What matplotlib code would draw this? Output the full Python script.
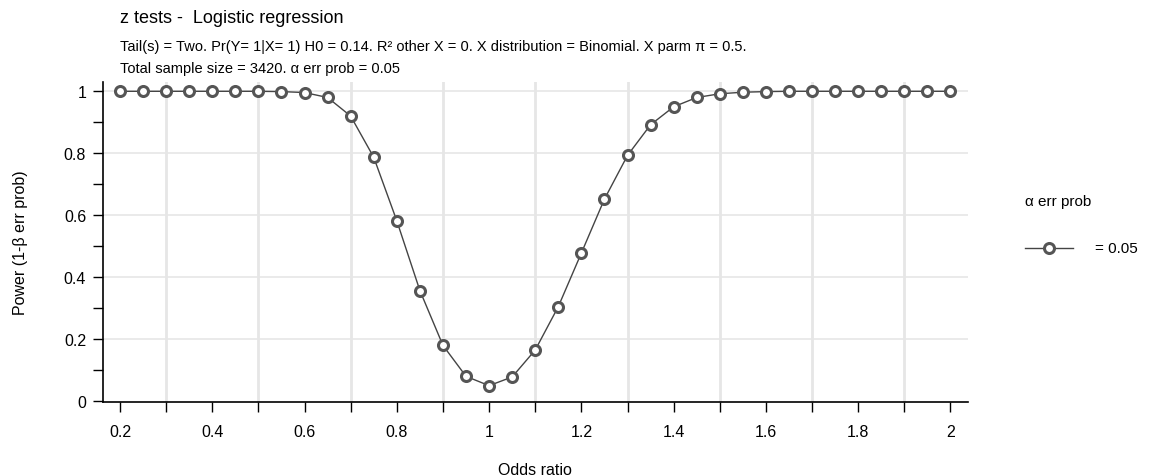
import numpy as np
import matplotlib.pyplot as plt
from matplotlib.ticker import MultipleLocator
from matplotlib.lines import Line2D

plt.rcParams["font.family"] = ["Liberation Sans", "DejaVu Sans"]

# data
odds_ratio = [0.20, 0.25, 0.30, 0.35, 0.40, 0.45, 0.50, 0.55, 0.60, 0.65,
              0.70, 0.75, 0.80, 0.85, 0.90, 0.95, 1.00, 1.05, 1.10, 1.15,
              1.20, 1.25, 1.30, 1.35, 1.40, 1.45, 1.50, 1.55, 1.60, 1.65,
              1.70, 1.75, 1.80, 1.85, 1.90, 1.95, 2.00]
power = [1.000, 1.000, 1.000, 1.000, 1.000, 1.000, 1.000, 0.999, 0.996, 0.980,
         0.920, 0.787, 0.582, 0.357, 0.180, 0.080, 0.050, 0.078, 0.165, 0.305,
         0.478, 0.652, 0.793, 0.892, 0.950, 0.980, 0.992, 0.997, 0.999, 1.000,
         1.000, 1.000, 1.000, 1.000, 1.000, 1.000, 1.000]
x_ticks = [0.2, 0.4, 0.6, 0.8, 1.0, 1.2, 1.4, 1.6, 1.8, 2.0]
x_tick_labels = ["0.2", "0.4", "0.6", "0.8", "1", "1.2", "1.4", "1.6", "1.8", "2"]
y_ticks = [0, 0.2, 0.4, 0.6, 0.8, 1.0]
y_tick_labels = ["0", "0.2", "0.4", "0.6", "0.8", "1"]

LINE = "#444444"
MARK = "#555555"
GRID = "#e6e6e6"

fig = plt.figure(figsize=(11.56, 4.77), dpi=100)
ax = fig.add_axes([0.089, 0.155, 0.748, 0.671])

ax.plot(odds_ratio, power, color=LINE, lw=1.0, marker="o", ms=7.2,
        mfc="white", mec=MARK, mew=2.2, zorder=3)

ax.set_xlim(0.163, 2.037)
ax.set_ylim(-0.003, 1.03)
ax.set_xticks(x_ticks)
ax.set_xticklabels(x_tick_labels)
ax.set_yticks(y_ticks)
ax.set_yticklabels(y_tick_labels)
ax.xaxis.set_minor_locator(MultipleLocator(0.1))
ax.yaxis.set_minor_locator(MultipleLocator(0.1))
ax.tick_params(which="both", direction="out", length=7, width=1, labelsize=11.5,
               colors="black")
ax.tick_params(axis="x", which="major", pad=9)
ax.tick_params(axis="y", which="major", pad=5)

# grid: horizontal at major y, vertical at odd tenths
for yv in y_ticks[1:]:
    ax.axhline(yv, color=GRID, lw=1.2, zorder=0)
for xv in np.arange(0.3, 2.0, 0.2):
    ax.axvline(xv, color=GRID, lw=2.0, zorder=0)

for s in ["top", "right"]:
    ax.spines[s].set_visible(False)
ax.spines["left"].set_linewidth(1.2)
ax.spines["bottom"].set_linewidth(1.2)

ax.set_xlabel("Odds ratio", fontsize=11.5, labelpad=16)
ax.set_ylabel("Power (1-β err prob)", fontsize=11.5, labelpad=26)

fig.text(0.104, 0.962, "z tests -  Logistic regression", fontsize=13, va="center")
fig.text(0.104, 0.901,
         "Tail(s) = Two. Pr(Y= 1|X= 1) H0 = 0.14. R² other X = 0. X distribution = Binomial. X parm π = 0.5.",
         fontsize=10.5, va="center")
fig.text(0.104, 0.855, "Total sample size = 3420. α err prob = 0.05", fontsize=10.5, va="center")

# legend drawn by hand
fig.text(0.887, 0.576, "α err prob", fontsize=11, va="center")
handle = Line2D([0.887, 0.928], [0.478, 0.478], transform=fig.transFigure,
                color=LINE, lw=1.0)
fig.add_artist(handle)
fig.add_artist(Line2D([0.9075], [0.478], transform=fig.transFigure, marker="o",
                      ms=7.2, mfc="white", mec=MARK, mew=2.2, lw=0))
fig.text(0.947, 0.478, "= 0.05", fontsize=11, va="center")

fig.savefig("out.png", dpi=100)
